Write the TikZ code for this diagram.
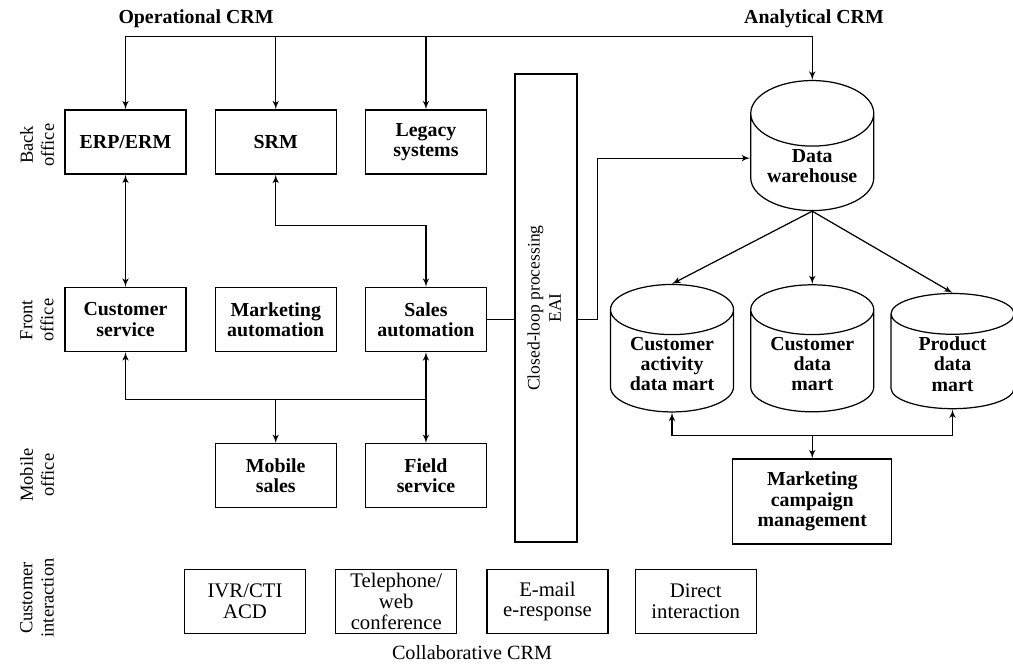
\documentclass[tikz,border=0pt]{standalone}
\usepackage{fontspec}
\setmainfont{Liberation Serif}
\usetikzlibrary{arrows,positioning,shapes.geometric}
\tikzstyle{block}=[draw, fill=white, align=center, minimum width=24.2mm, minimum height=12.8mm, inner sep=1pt, font=\bfseries\fontsize{11.3}{11.6}\selectfont]
\tikzstyle{iblock}=[block, font=\fontsize{11.8}{11.8}\selectfont]
\tikzstyle{store}=[draw, fill=white, cylinder, shape border rotate=90, aspect=0.57, align=center, minimum width=24.6mm, minimum height=20mm, inner sep=1pt, font=\bfseries\fontsize{11.3}{11.6}\selectfont]
\tikzstyle{side}=[rotate=90, align=center, font=\fontsize{10.5}{12}\selectfont]
\tikzstyle{head}=[font=\bfseries\fontsize{11.3}{12}\selectfont]

\begin{document}
\begin{tikzpicture}[x=0.2mm,y=-0.2mm,>=latex',line width=0.7pt]
    \useasboundingbox (0,0) rectangle (1013,663);

    \node [head] (op) at (196,19) {Operational CRM};
    \node [head] (an) at (814,19) {Analytical CRM};
    \node [inner sep=0pt, font=\fontsize{11.5}{12}\selectfont] (co) at (472,653) {Collaborative CRM};

    \node [side] (back) at (37,145) {Back\\office};
    \node [side] (front) at (37,320) {Front\\office};
    \node [side] (mobile) at (37,475) {Mobile\\office};
    \node [side] (inter) at (37,598) {Customer\\interaction};

    \node [block] (erp) at (125.5,142) {ERP/ERM};
    \node [block] (srm) [right=5.6mm of erp] {SRM};
    \node [block] (leg) [right=5.6mm of srm] {Legacy\\systems};
    \node [block] (cs) at (125.5,319.5) {Customer\\service};
    \node [block] (ma) [right=5.6mm of cs] {Marketing\\automation};
    \node [block] (sa) [right=5.6mm of ma] {Sales\\automation};
    \node [block] (ms) [below=18.2mm of ma] {Mobile\\sales};
    \node [block] (fs) [right=5.6mm of ms] {Field\\service};

    \node [draw, minimum width=12.4mm, minimum height=93.6mm, inner sep=0pt] (eai) at (546,308)
        {\rotatebox{90}{\fontsize{10}{12}\selectfont\begin{tabular}{@{}c@{}}Closed-loop processing\\EAI\end{tabular}}};

    \node [store] (cam) at (672,364) {Customer\\activity\\data mart};
    \node [store] (cdm) [right=3.2mm of cam] {Customer\\data\\mart};
    \node [store] (pdm) [right=3.2mm of cdm] {Product\\data\\mart};
    \node [store, aspect=0.7, minimum height=26mm, inner ysep=-1.2mm] (dw) [above=14.6mm of cdm] {Data\\warehouse};
    \node [block, minimum width=31.8mm, minimum height=17mm] (mcm) [below=9.2mm of cdm] {Marketing\\campaign\\management};

    \node [iblock] (ivr) at (245,601.5) {IVR/CTI\\ACD};
    \node [iblock] (tel) [right=5.8mm of ivr] {Telephone/\\web\\conference};
    \node [iblock] (mail) [right=5.8mm of tel] {E-mail\\e-response};
    \node [iblock] (dir) [right=5.2mm of mail] {Direct\\interaction};

    % operational CRM bus
    \coordinate (tl) at ([yshift=14.6mm]erp.north);
    \draw [->] (tl) -- (erp);
    \draw [->] (tl) -| (dw);
    \draw [->] (srm |- tl) -- (srm);
    \draw [->] (leg |- tl) -- (leg);

    \draw [<->] (erp) -- (cs);
    \draw [<->] (srm.south) -- ++(0,51) -| (sa.north);

    % front and mobile office
    \coordinate (hub) at ([yshift=-9.4mm]sa.south);
    \draw [->] (hub) -| (cs);
    \draw [->] (hub) -- (sa);
    \draw [->] (hub) -- (fs);
    \draw [->] (ms |- hub) -- (ms);

    % EAI to warehouse
    \draw (sa) -- (sa -| eai.west);
    \draw [->] (eai.east |- sa) -- ++(20,0) |- ([yshift=1.6mm]dw.west);

    % analytical CRM
    \draw [->] (dw.south) -- (cam.north);
    \draw [->] (dw.south) -- (cdm.north);
    \draw [->] (dw.south) -- (pdm.north);
    \coordinate (mhub) at ([yshift=-4.6mm]cdm.south);
    \draw [->] (mhub) -| (cam.south);
    \draw [->] (mhub) -| (pdm.south);
    \draw [->] (mhub) -- (mcm);
\end{tikzpicture}
\end{document}
